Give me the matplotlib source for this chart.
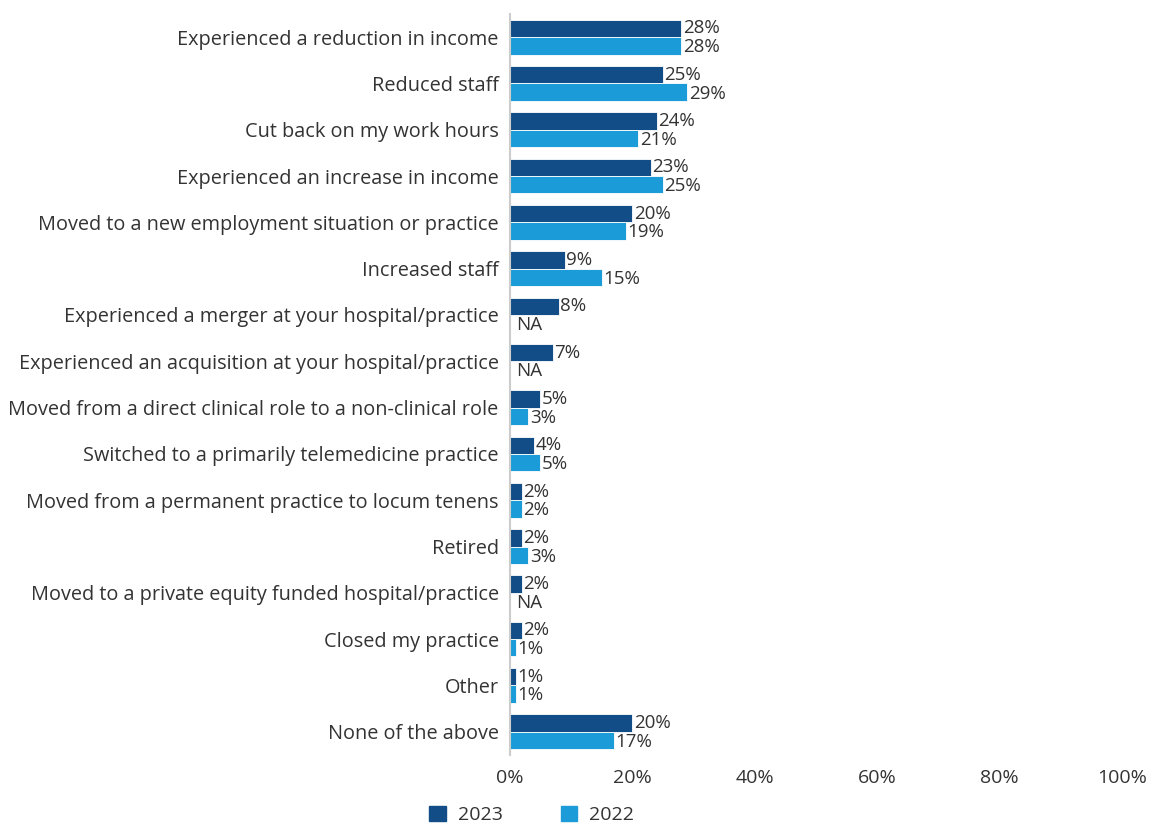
import numpy as np
import matplotlib.pyplot as plt

categories = [
    "Experienced a reduction in income",
    "Reduced staff",
    "Cut back on my work hours",
    "Experienced an increase in income",
    "Moved to a new employment situation or practice",
    "Increased staff",
    "Experienced a merger at your hospital/practice",
    "Experienced an acquisition at your hospital/practice",
    "Moved from a direct clinical role to a non-clinical role",
    "Switched to a primarily telemedicine practice",
    "Moved from a permanent practice to locum tenens",
    "Retired",
    "Moved to a private equity funded hospital/practice",
    "Closed my practice",
    "Other",
    "None of the above",
]
vals_2023 = [28, 25, 24, 23, 20, 9, 8, 7, 5, 4, 2, 2, 2, 2, 1, 20]
vals_2022 = [28, 29, 21, 25, 19, 15, None, None, 3, 5, 2, 3, None, 1, 1, 17]
xticks = [0, 20, 40, 60, 80, 100]

c23 = "#124d88"
c22 = "#1b9cd8"
txt = "#333333"

plt.rcParams['font.family'] = ['Open Sans', 'DejaVu Sans']

fig = plt.figure(figsize=(11.56, 8.25), dpi=100)
ax = fig.add_axes([0.441, 0.085, 0.5295, 0.898])

y = np.arange(len(categories))
h = 0.375
for i in range(len(categories)):
    v = vals_2023[i]
    ax.barh(y[i] - h / 2, v, height=h, color=c23, edgecolor="white", linewidth=0.6)
    ax.text(v + 0.25, y[i] - h / 2, f"{v}%", va="center", ha="left", fontsize=13.5, color=txt)
    w = vals_2022[i]
    if w is None:
        ax.text(1.1, y[i] + h / 2 + 0.03, "NA", va="center", ha="left", fontsize=13.5, color=txt)
    else:
        ax.barh(y[i] + h / 2, w, height=h, color=c22, edgecolor="white", linewidth=0.6)
        ax.text(w + 0.25, y[i] + h / 2 + 0.03, f"{w}%", va="center", ha="left", fontsize=13.5, color=txt)

ax.set_ylim(len(categories) - 0.5, -0.5)
ax.set_xlim(0, 100)
ax.set_yticks(y)
ax.set_yticklabels(categories, fontsize=14.3, color=txt)
ax.set_xticks(xticks)
ax.set_xticklabels([f"{t}%" for t in xticks], fontsize=14, color=txt)
ax.tick_params(length=0, pad=8)
ax.tick_params(axis="x", pad=10)
for s in ["top", "right", "bottom"]:
    ax.spines[s].set_visible(False)
ax.spines["left"].set_color("#cccccc")
ax.spines["left"].set_linewidth(1.5)

# legend below the axis
handles = [plt.Rectangle((0, 0), 1, 1, color=c23), plt.Rectangle((0, 0), 1, 1, color=c22)]
fig.legend(handles, ["2023", "2022"], loc="center", bbox_to_anchor=(0.46, 0.012),
           ncol=2, frameon=False, fontsize=14, handlelength=0.85, handleheight=0.85,
           columnspacing=3.0, handletextpad=0.6, labelcolor=txt)

fig.savefig("out.png", dpi=100, facecolor="white")
